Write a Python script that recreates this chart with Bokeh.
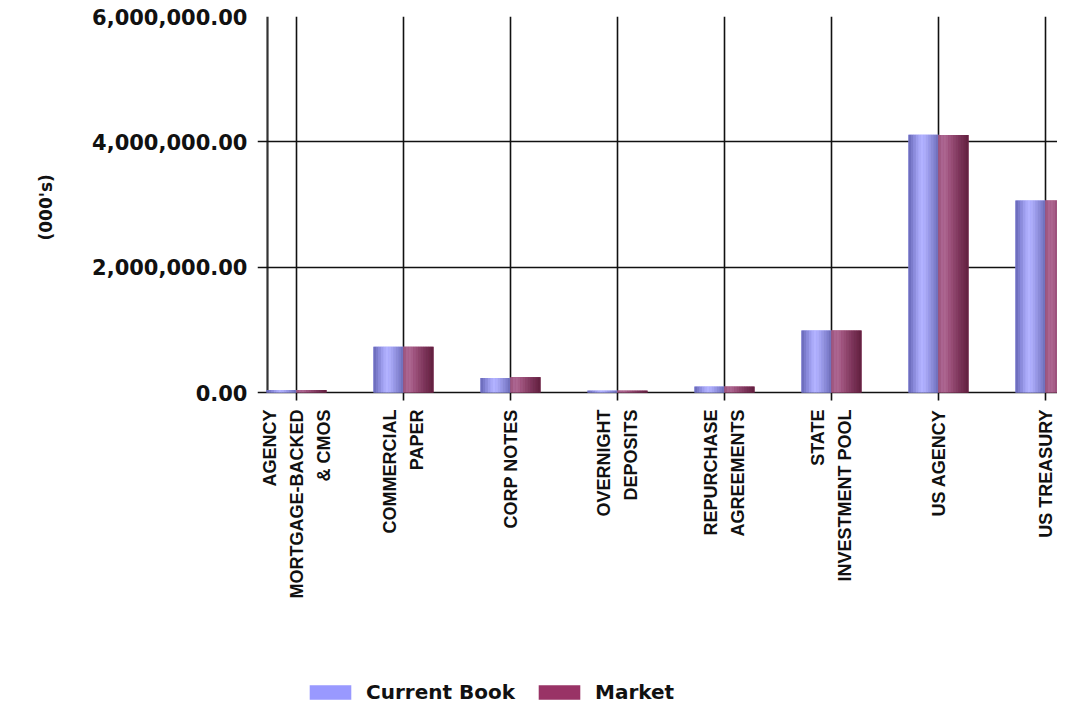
from bokeh.plotting import figure
from bokeh.models import (Range1d, FixedTicker, NumeralTickFormatter, ColumnDataSource,
                          Legend, LegendItem, LabelSet, Title)
from bokeh.core.properties import value
from bokeh.embed import file_html
from bokeh.resources import INLINE
import math

# ---- data ----
categories = ["AGENCY\nMORTGAGE-BACKED\n& CMOS", "COMMERCIAL\nPAPER", "CORP NOTES",
              "OVERNIGHT\nDEPOSITS", "REPURCHASE\nAGREEMENTS", "STATE\nINVESTMENT POOL",
              "US AGENCY", "US TREASURY"]
current_book = [40000, 730000, 230000, 30000, 95000, 990000, 4115000, 3065000]
market = [40000, 730000, 245000, 30000, 95000, 990000, 4110000, 3065000]
series_names = ["Current Book", "Market"]
y_ticks = [0, 2000000, 4000000, 6000000]
y_max = 6000000
y_title = "(000's)"

# ---- layout / styles ----
legend_colors = ["#9999FF", "#993366"]
blue_shades = ["#6E6EBE", "#7C7CCC", "#8C8CDC", "#9C9CEC", "#AAAAF8", "#B2B2FF",
               "#ADADFA", "#A3A3F0", "#9797E4", "#8B8BD8", "#7F7FCC", "#7272BE"]
red_shades = ["#A05880", "#AA6490", "#AC6690", "#A65E88", "#9E547E", "#964C74",
              "#8C446B", "#843C62", "#7B3459", "#732E51", "#6C2849", "#652242"]
bar_w = 0.28
n_strips = len(blue_shades)
cat_px = 107            # px per category
tick_px = 10            # horizontal grid lines reach this far left of the y axis line
axis_px = 29            # px from y axis line to the first category
frame_w = 800
frame_h = 688           # total frame height in px
plot_px = 376           # px used by 0..y_max
below_px = frame_h - plot_px
units_per_px = y_max / plot_px
y_start = -below_px * units_per_px
x_axis_pos = -axis_px / cat_px
x_start = x_axis_pos - tick_px / cat_px
line_gap = 27           # px between lines of a category label

p = figure(frame_width=frame_w, frame_height=frame_h, output_backend="svg",
           toolbar_location=None,
           x_range=Range1d(x_start, x_start + frame_w / cat_px),
           y_range=Range1d(y_start, y_max),
           min_border_left=257, min_border_right=0, min_border_top=16,
           min_border_bottom=0)
p.outline_line_color = None
p.background_fill_color = "white"
p.xaxis.visible = False
p.xgrid.visible = False

idx = list(range(len(categories)))

# vertical grid lines at the categories, reaching a little below 0 as tick marks
p.segment(x0=idx, x1=idx, y0=[-8 * units_per_px] * len(idx), y1=[y_max] * len(idx),
          line_color="#111111", line_width=1.6, level="underlay")
# y axis line (the horizontal grid lines poke out left of it as tick marks)
p.segment(x0=[x_axis_pos], x1=[x_axis_pos], y0=[0], y1=[y_max],
          line_color="#333333", line_width=2.2, level="underlay")

# bars: solid base (used by the legend) + shading strips
items = []
for name, vals, shades, side, col in [(series_names[0], current_book, blue_shades, -1, legend_colors[0]),
                                      (series_names[1], market, red_shades, 1, legend_colors[1])]:
    base = p.vbar(x=[i + side * bar_w / 2 for i in idx], top=vals, bottom=0, width=bar_w,
                  fill_color=col, line_color=None)
    items.append(LegendItem(label=name, renderers=[base]))
    for k, c in enumerate(shades):
        xs = [i + side * bar_w / 2 + (k + 0.5 - n_strips / 2) * bar_w / n_strips for i in idx]
        p.vbar(x=xs, top=vals, width=bar_w / n_strips + 0.003, bottom=0,
               fill_color=c, line_color=None)

legend = Legend(items=items, orientation="horizontal", location=(47, 0),
                glyph_width=52, glyph_height=18, label_standoff=10, spacing=18,
                padding=0, margin=0, border_line_color=None, background_fill_alpha=0,
                label_text_font="DejaVu Sans", label_text_font_style="bold",
                label_text_font_size="20px", label_text_color="#111111",
                label_height=18)
p.add_layout(legend, "center")

# y axis: labels only (line and ticks come from the segment and grid)
p.yaxis.bounds = (0, y_max)
p.yaxis.ticker = FixedTicker(ticks=y_ticks)
p.yaxis.formatter = NumeralTickFormatter(format="0,0.00")
p.yaxis.major_label_text_font = "DejaVu Sans"
p.yaxis.major_label_text_font_style = "bold"
p.yaxis.major_label_text_font_size = "21px"
p.yaxis.major_label_text_color = "#111111"
p.yaxis.major_label_standoff = 10
p.yaxis.major_tick_out = 0
p.yaxis.major_tick_in = 0
p.yaxis.major_tick_line_color = None
p.yaxis.minor_tick_line_color = None
p.yaxis.axis_line_color = None

# y title placed beside the 0..y_max part of the frame
p.add_layout(Title(text=y_title, align="left", vertical_align="top",
                   offset=below_px + plot_px / 2 - 36,
                   text_font="DejaVu Sans", text_font_style="bold",
                   text_font_size="17px", text_color="#111111", standoff=64), "left")

p.ygrid.ticker = FixedTicker(ticks=y_ticks)
p.ygrid.grid_line_color = "#111111"
p.ygrid.grid_line_width = 1.6
p.ygrid.level = "underlay"

# category labels, one label per text line so every line is right-aligned
lx, loff, lt = [], [], []
for i, c in zip(idx, categories):
    parts = c.split("\n")
    for j, t in enumerate(parts):
        lx.append(i)
        loff.append((j - (len(parts) - 1) / 2) * line_gap)
        lt.append(t)
lab_src = ColumnDataSource(dict(x=lx, y=[0] * len(lx), xo=loff, t=lt))
labels = LabelSet(x="x", y="y", text="t", source=lab_src, x_offset="xo", y_offset=-17,
                  angle=math.pi / 2, text_align="right", text_baseline="middle",
                  text_font=value("Liberation Sans"), text_font_style=value("bold"),
                  text_font_size=value("18px"), text_color="#111111")
p.add_layout(labels)

open("out.html", "w").write(file_html(p, INLINE))
